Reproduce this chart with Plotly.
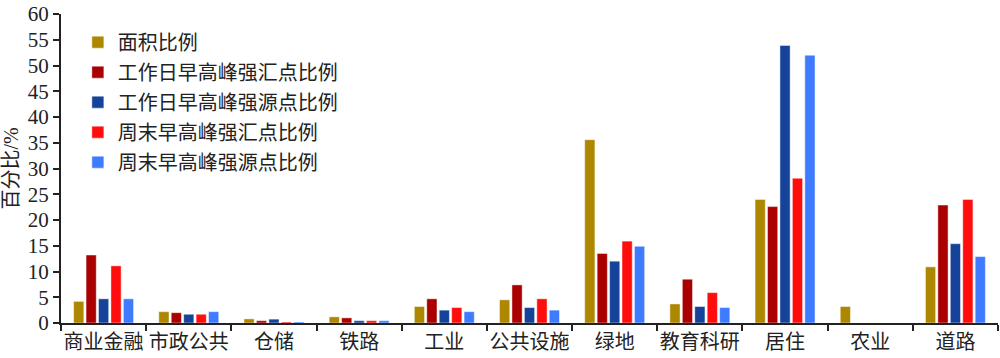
import plotly.graph_objects as go

categories = ["商业金融", "市政公共", "仓储", "铁路", "工业", "公共设施", "绿地", "教育科研", "居住", "农业", "道路"]
series_names = ["面积比例", "工作日早高峰强汇点比例", "工作日早高峰强源点比例", "周末早高峰强汇点比例", "周末早高峰强源点比例"]
area_ratio = [4.2, 2.2, 0.8, 1.2, 3.2, 4.5, 35.6, 3.7, 24.0, 3.2, 10.9]
weekday_sink = [13.2, 2.0, 0.45, 1.0, 4.7, 7.4, 13.5, 8.5, 22.6, 0, 22.9]
weekday_source = [4.7, 1.7, 0.75, 0.45, 2.5, 3.0, 12.0, 3.2, 53.9, 0, 15.4]
weekend_sink = [11.1, 1.7, 0.2, 0.45, 3.0, 4.7, 15.9, 5.9, 28.1, 0, 24.0]
weekend_source = [4.7, 2.2, 0.2, 0.45, 2.2, 2.5, 14.9, 3.0, 52.0, 0, 12.9]
y_ticks = [0, 5, 10, 15, 20, 25, 30, 35, 40, 45, 50, 55, 60]

colors = ["#AE8700", "#AA0000", "#154399", "#FF0D0D", "#3F7BFF"]
series = [area_ratio, weekday_sink, weekday_source, weekend_sink, weekend_source]

fig = go.Figure()
for i, (name, vals) in enumerate(zip(series_names, series)):
    fig.add_trace(go.Bar(
        x=categories, y=vals, name=name,
        marker=dict(color=colors[i], line=dict(color="rgba(255,255,255,0.45)", width=1)),
        legendgroup=str(i),
    ))

font_family = "Liberation Serif, Noto Sans CJK SC, serif"
fig.update_layout(
    width=1000, height=358,
    margin=dict(l=61, r=2, t=7, b=35),
    paper_bgcolor="white", plot_bgcolor="white",
    barmode="group", bargap=0.27, bargroupgap=0.18,
    font=dict(family=font_family, size=20, color="#222"),
    legend=dict(x=0.018, y=0.972, xanchor="left", yanchor="top",
                font=dict(size=20, family=font_family, color="#222"),
                traceorder="grouped", tracegroupgap=1,
                bgcolor="rgba(0,0,0,0)"),
    showlegend=True,
)
fig.update_xaxes(
    showline=True, linecolor="#222", linewidth=2,
    ticks="outside", tickson="boundaries", ticklen=6, tickwidth=2, tickcolor="#222",
    tickfont=dict(size=20, family=font_family, color="#222"), tickangle=0,
    showgrid=False,
)
fig.update_yaxes(
    range=[0, 60], tickvals=y_ticks,
    showline=True, linecolor="#222", linewidth=2,
    ticks="outside", ticklen=6, tickwidth=2, tickcolor="#222",
    tickfont=dict(size=21, family=font_family, color="#222"),
    ticklabeloverflow="allow",
    showgrid=False, zeroline=False,
    title=dict(text="百分比/%", font=dict(size=20, family=font_family, color="#222"), standoff=4),
)
fig.write_html("out.html")
